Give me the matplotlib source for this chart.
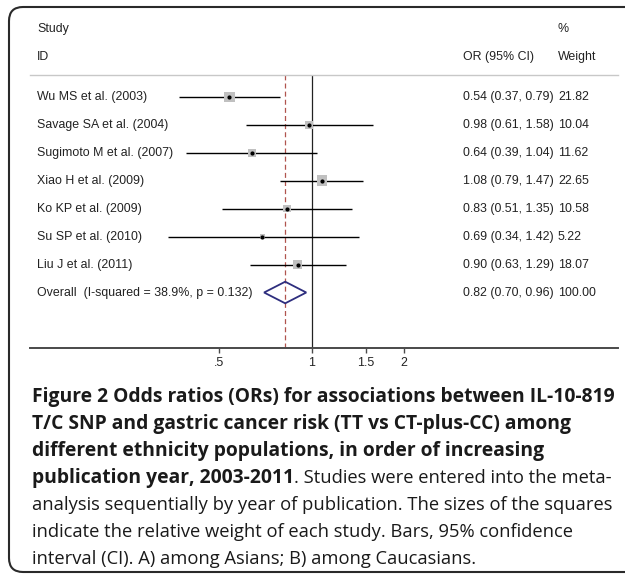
import matplotlib
matplotlib.use("Agg")
import matplotlib.pyplot as plt
import matplotlib.transforms as mtransforms
from matplotlib.patches import Polygon, PathPatch
from matplotlib.path import Path
import numpy as np

# ---------------- data ----------------
studies = ["Wu MS et al. (2003)", "Savage SA et al. (2004)", "Sugimoto M et al. (2007)",
           "Xiao H et al. (2009)", "Ko KP et al. (2009)", "Su SP et al. (2010)",
           "Liu J et al. (2011)"]
odds = [0.54, 0.98, 0.64, 1.08, 0.83, 0.69, 0.90]
ci_low = [0.37, 0.61, 0.39, 0.79, 0.51, 0.34, 0.63]
ci_high = [0.79, 1.58, 1.04, 1.47, 1.35, 1.42, 1.29]
weights = [21.82, 10.04, 11.62, 22.65, 10.58, 5.22, 18.07]
overall_label = "Overall  (I-squared = 38.9%, p = 0.132)"
overall_or, overall_low, overall_high, overall_weight = 0.82, 0.70, 0.96, 100.00
tick_values = [0.5, 1, 1.5, 2]
tick_labels = [".5", "1", "1.5", "2"]

caption_bold = ["Figure 2 Odds ratios (ORs) for associations between IL-10-819",
                "T/C SNP and gastric cancer risk (TT vs CT-plus-CC) among",
                "different ethnicity populations, in order of increasing",
                "publication year, 2003-2011"]
caption_regular = [". Studies were entered into the meta-",
                   "analysis sequentially by year of publication. The sizes of the squares",
                   "indicate the relative weight of each study. Bars, 95% confidence",
                   "interval (CI). A) among Asians; B) among Caucasians."]

# ---------------- layout ----------------
W, H = 625, 574
fig = plt.figure(figsize=(W / 100, H / 100), dpi=100)
fig.patch.set_facecolor("white")
# pixel transform with origin at top-left
px = mtransforms.Affine2D().scale(1 / W, -1 / H).translate(0, 1) + fig.transFigure

row0_px, row_step = 97.0, 27.93
ax_top_px, ax_bot_px = 75.0, 348.0
ax_left_px, ax_right_px = 30.0, 618.0
x1_px, px_per_ln = 311.7, 133.5

ax = fig.add_axes([ax_left_px / W, 1 - ax_bot_px / H,
                   (ax_right_px - ax_left_px) / W, (ax_bot_px - ax_top_px) / H])
ax.set_xscale("log")
ax.set_xlim(np.exp((ax_left_px - x1_px) / px_per_ln), np.exp((ax_right_px - x1_px) / px_per_ln))
ax.set_ylim((ax_bot_px - row0_px) / row_step, (ax_top_px - row0_px) / row_step)
ax.set_facecolor("none")

for s in ["left", "right"]:
    ax.spines[s].set_visible(False)
ax.spines["top"].set_color("#c8c8c8")
ax.spines["top"].set_linewidth(1.0)
ax.spines["bottom"].set_color("#4a4a4a")
ax.spines["bottom"].set_linewidth(1.4)

ax.set_yticks([])
ax.set_xticks(tick_values)
ax.set_xticklabels(tick_labels)
ax.xaxis.set_minor_locator(matplotlib.ticker.NullLocator())
chart_font = "Liberation Sans"
fs = 8.9
ax.tick_params(axis="x", direction="out", length=3.8, width=1.0, color="#4a4a4a",
               pad=3.0, labelsize=fs, labelcolor="#222222")
for lab in ax.get_xticklabels():
    lab.set_fontfamily(chart_font)

# reference lines
ax.axvline(1.0, color="#222222", lw=0.9, zorder=1)
ax.axvline(overall_or, color="#b0544e", lw=0.9, ls=(0, (4, 2.5)), zorder=1)

# studies
ys = np.arange(len(studies))
ax.hlines(ys, ci_low, ci_high, color="black", lw=1.0, zorder=2)
ax.scatter(odds, ys, s=[2.7 * w for w in weights], marker="s", color="#c0c0c0",
           edgecolors="none", zorder=3)
ax.plot(odds, ys, "o", color="black", ms=2.0, zorder=4)

# overall diamond
yo = len(studies)
hh = 10.8 / row_step
diamond = Polygon([(overall_low, yo), (overall_or, yo - hh), (overall_high, yo), (overall_or, yo + hh)],
                  closed=True, fill=False, edgecolor="#2e2e7e", lw=1.3, zorder=5)
ax.add_patch(diamond)

# text columns
trans = mtransforms.blended_transform_factory(fig.transFigure, ax.transData)
x_study, x_or, x_wt = 37 / W, 463 / W, 558 / W
tkw = dict(transform=trans, fontsize=fs, family=chart_font, color="#222222",
           va="center", ha="left", clip_on=False)
y_h1 = (29 - row0_px) / row_step
y_h2 = (57 - row0_px) / row_step
ax.text(x_study, y_h1, "Study", **tkw)
ax.text(x_study, y_h2, "ID", **tkw)
ax.text(x_or, y_h2, "OR (95% CI)", **tkw)
ax.text(x_wt, y_h1, "%", **tkw)
ax.text(x_wt, y_h2, "Weight", **tkw)
for i, name in enumerate(studies):
    ax.text(x_study, i, name, **tkw)
    ax.text(x_or, i, f"{odds[i]:.2f} ({ci_low[i]:.2f}, {ci_high[i]:.2f})", **tkw)
    ax.text(x_wt, i, f"{weights[i]:.2f}", **tkw)
ax.text(x_study, yo, overall_label, **tkw)
ax.text(x_or, yo, f"{overall_or:.2f} ({overall_low:.2f}, {overall_high:.2f})", **tkw)
ax.text(x_wt, yo, f"{overall_weight:.2f}", **tkw)

# frame: open on the right, rounded corners on the left
L, T, B, R, r = 9.0, 7.0, 572.0, 700.0, 14.0
verts = [(R, T), (L + r, T), (L, T), (L, T + r), (L, B - r), (L, B), (L + r, B), (R, B)]
codes = [Path.MOVETO, Path.LINETO, Path.CURVE3, Path.CURVE3, Path.LINETO,
         Path.CURVE3, Path.CURVE3, Path.LINETO]
frame = PathPatch(Path(verts, codes), transform=px, fill=False, edgecolor="#2a2a2a",
                  lw=1.5, clip_on=False)
fig.add_artist(frame)

# caption
cap_font = "Open Sans"
renderer = fig.canvas.get_renderer()
cap_x = 32
cap_y0, cap_step = 397.0, 27.0
cap_color = "#1a1a1a"

def fit_size(text, weight, target):
    t = fig.text(0, 0, text, fontsize=12, family=cap_font, weight=weight)
    w = t.get_window_extent(renderer).width
    t.remove()
    return 12 * target / w

bold_fs = fit_size(caption_bold[0], "bold", 582)
reg_fs = fit_size(caption_regular[1], "normal", 578)

lines_y = [cap_y0 + i * cap_step for i in range(7)]
for i in range(3):
    fig.text(cap_x, lines_y[i], caption_bold[i], transform=px, fontsize=bold_fs,
             family=cap_font, weight="bold", color=cap_color, va="center", ha="left")
tb = fig.text(cap_x, lines_y[3], caption_bold[3], transform=px, fontsize=bold_fs,
              family=cap_font, weight="bold", color=cap_color, va="center", ha="left")
fig.canvas.draw()
bb = tb.get_window_extent(renderer)
x_end = bb.x1 / fig.dpi * 100  # display px -> our px (dpi 100)
fig.text(x_end, lines_y[3], caption_regular[0], transform=px, fontsize=reg_fs,
         family=cap_font, color=cap_color, va="center", ha="left")
for i in range(1, 4):
    fig.text(cap_x, lines_y[3 + i], caption_regular[i], transform=px, fontsize=reg_fs,
             family=cap_font, color=cap_color, va="center", ha="left")

fig.savefig("out.png", dpi=100)
